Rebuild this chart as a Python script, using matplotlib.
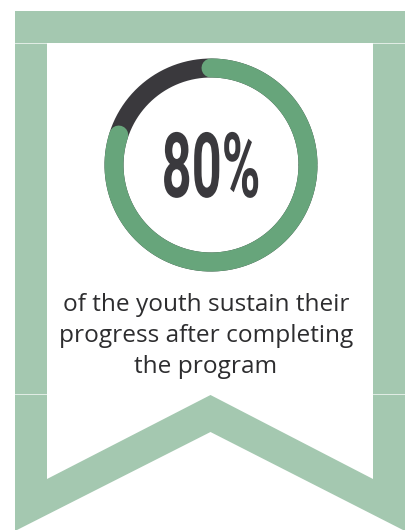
import numpy as np
import matplotlib.pyplot as plt
from matplotlib.patches import Polygon
from matplotlib.patheffects import AbstractPathEffect
from matplotlib.transforms import Affine2D

# Data
share = 80  # percent
label_lines = ["of the youth sustain their", "progress after completing", "the program"]

# Colours
banner_green = "#a4c8b0"
ring_green = "#67a57b"
ring_dark = "#3a393d"
text_dark = "#2d2d2f"


class HStretch(AbstractPathEffect):
    """Squeeze text horizontally about a fixed display x (condensed look)."""

    def __init__(self, sx, x0):
        super().__init__()
        self.sx = sx
        self.x0 = x0

    def draw_path(self, renderer, gc, tpath, affine, rgbFace=None):
        aff = affine + Affine2D().translate(-self.x0, 0).scale(self.sx, 1).translate(self.x0, 0)
        renderer.draw_path(gc, tpath, aff, rgbFace)


W, H = 413, 530
fig = plt.figure(figsize=(W / 100, H / 100), dpi=100)
ax = fig.add_axes([0, 0, 1, 1])
ax.set_xlim(0, W)
ax.set_ylim(H, 0)
ax.axis("off")

# Banner outline (thick green frame with a notch at the bottom)
ax.add_patch(Polygon([(15, 11), (405, 11), (405, 43), (15, 43)], closed=True,
                     fc=banner_green, ec="none"))
frame = [(15, 43), (47, 43), (47, 479), (210.5, 395), (373, 479), (373, 43),
         (405, 43), (405, 531), (210.5, 432), (15, 531)]
ax.add_patch(Polygon(frame, closed=True, fc=banner_green, ec="none"))
# faint seams
ax.plot([15, 405], [43, 43], color="white", lw=0.6, alpha=0.8)
ax.plot([15, 47], [394, 394], color="white", lw=0.6, alpha=0.8)
ax.plot([373, 405], [394, 394], color="white", lw=0.6, alpha=0.8)

# Progress ring
cx, cy, r = 211, 165, 97
lw_pt = 19 * 72 / 100
t = np.linspace(0, 2 * np.pi, 400)
ax.plot(cx + r * np.cos(t), cy - r * np.sin(t), color=ring_dark, lw=lw_pt,
        solid_capstyle="butt")
start = np.pi / 2
end = start - 2 * np.pi * share / 100
t = np.linspace(start, end, 400)
ax.plot(cx + r * np.cos(t), cy - r * np.sin(t), color=ring_green, lw=lw_pt,
        solid_capstyle="round")

x0_disp = ax.transData.transform((cx, cy))[0]
ax.text(cx, 197, f"{share}%", ha="center", va="baseline", fontsize=65,
        fontweight="bold", family="Roboto", color=ring_dark,
        path_effects=[HStretch(0.58, x0_disp)])

# Caption
for i, line in enumerate(label_lines):
    ax.text(206, 311 + i * 31, line, ha="center", va="baseline", fontsize=17.6,
            family="Open Sans", color=text_dark)

fig.savefig("out.png", dpi=100)
